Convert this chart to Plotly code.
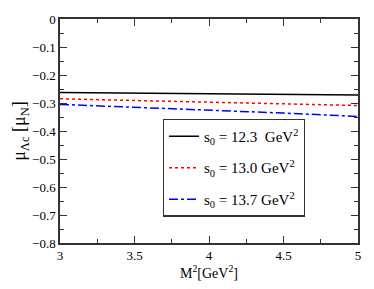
import plotly.graph_objects as go

m2 = [3.0, 3.5, 4.0, 4.5, 5.0]
mu_123 = [-0.2625, -0.2645, -0.2668, -0.2690, -0.2710]
mu_130 = [-0.2850, -0.2905, -0.2960, -0.3025, -0.3090]
mu_137 = [-0.3050, -0.3145, -0.3245, -0.3360, -0.3480]
labels = ["s<sub>0</sub> = 12.3  GeV<sup>2</sup>",
          "s<sub>0</sub> = 13.0 GeV<sup>2</sup>",
          "s<sub>0</sub> = 13.7 GeV<sup>2</sup>"]
colors = ["black", "red", "blue"]
dashes = ["solid", "dot", "dashdot"]
SERIF = "Liberation Serif, Times New Roman, serif"

fig = go.Figure()
for i, (ys, lab, c, d) in enumerate(zip([mu_123, mu_130, mu_137], labels, colors, dashes)):
    fig.add_trace(go.Scatter(x=m2, y=ys, mode="lines", name=lab, legendgroup=f"g{i}",
                             line=dict(color=c, width=1.5, dash=d)))

axis_common = dict(showgrid=False, zeroline=False, showline=True, linecolor="#333",
                   linewidth=1.5, mirror="allticks", ticks="inside", ticklen=7,
                   tickcolor="#333", tickwidth=1.2,
                   tickfont=dict(family=SERIF, size=13, color="black"))
fig.update_xaxes(range=[3, 5], dtick=0.5, tick0=3,
                 minor=dict(ticks="inside", dtick=0.25, ticklen=4, tickcolor="#333"),
                 title=dict(text="M<sup>2</sup>[GeV<sup>2</sup>]", standoff=4,
                            font=dict(family=SERIF, size=14, color="black")),
                 **axis_common)
fig.update_yaxes(range=[-0.8, 0], dtick=0.1, tick0=0,
                 minor=dict(ticks="inside", dtick=0.05, ticklen=4, tickcolor="#333"),
                 title=dict(text="μ<sub>Λc</sub> [μ<sub>N</sub>]", standoff=0,
                            font=dict(family=SERIF, size=18, color="black")),
                 **axis_common)
fig.update_layout(
    width=374, height=289,
    margin=dict(l=60, r=16, t=19, b=46),
    plot_bgcolor="white", paper_bgcolor="white",
    font=dict(family=SERIF),
    showlegend=True,
    legend=dict(x=0.345, y=0.555, xanchor="left", yanchor="top",
                bordercolor="#333", borderwidth=1.2, bgcolor="white",
                font=dict(family=SERIF, size=15, color="black"),
                tracegroupgap=9, itemwidth=30),
)
fig.write_html("out.html", post_script="document.body.style.margin='0';",
               config={"displayModeBar": False})
